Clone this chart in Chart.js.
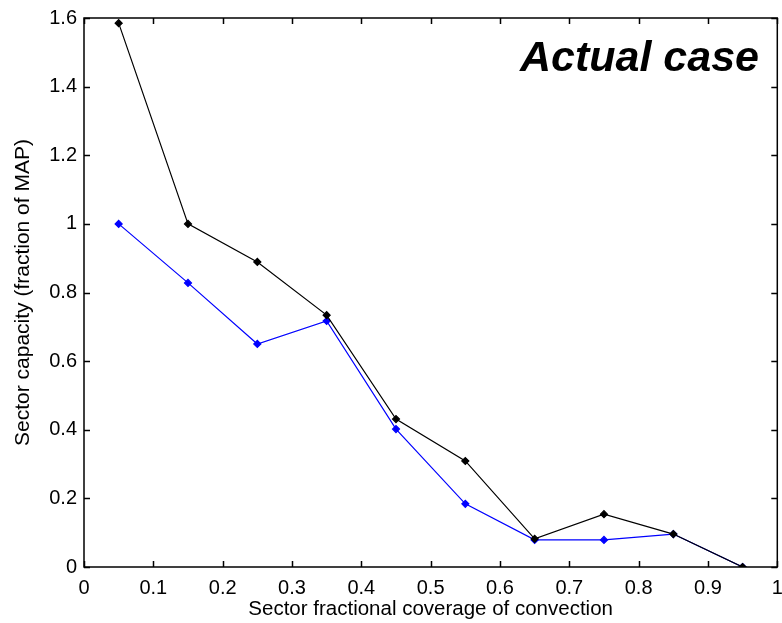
<!DOCTYPE html>
<html lang="en">

<head>
  <meta charset="UTF-8">
  <title>Sector capacity</title>
  <style>
    body { margin: 0; background: #fff; }
    #wrap { position: relative; width: 782px; height: 623px; }
    #note {
      position: absolute; left: 520px; top: 35px;
      font: italic bold 43px "Liberation Sans", Arial, sans-serif;
      line-height: 43px; color: #000; white-space: nowrap;
    }
  </style>
</head>

<body>
  <div id="wrap">
    <canvas id="myChart" width="782" height="623"></canvas>
    <div id="note">Actual case</div>
  </div>

  <script src="https://cdn.jsdelivr.net/npm/chart.js"></script>
  <script>
    // values
    const coverage = [0.05, 0.15, 0.25, 0.35, 0.45, 0.55, 0.65, 0.75, 0.85, 0.95]
    const capacityBlack = [1.585, 1.0, 0.889, 0.734, 0.431, 0.309, 0.082, 0.154, 0.096, 0]
    const capacityBlue = [1.0, 0.828, 0.65, 0.717, 0.402, 0.184, 0.079, 0.079, 0.096, 0]
    const xTicks = [0, 0.1, 0.2, 0.3, 0.4, 0.5, 0.6, 0.7, 0.8, 0.9, 1]
    const yTicks = [0, 0.2, 0.4, 0.6, 0.8, 1, 1.2, 1.4, 1.6]

    const toPoints = (ys) => coverage.map((x, i) => ({ x: x, y: ys[i] }))
    const fmt = (v) => String(+Number(v).toFixed(1))

    // matlab style box with ticks pointing inwards on all four sides
    const boxTicks = {
      id: 'boxTicks',
      afterDraw(chart) {
        const { ctx, chartArea: a, scales } = chart
        const len = 6
        ctx.save()
        ctx.strokeStyle = '#000'
        ctx.lineWidth = 1.5
        ctx.beginPath()
        xTicks.forEach(v => {
          const px = Math.round(scales.x.getPixelForValue(v)) + 0.5
          ctx.moveTo(px, a.bottom); ctx.lineTo(px, a.bottom - len)
          ctx.moveTo(px, a.top); ctx.lineTo(px, a.top + len)
        })
        yTicks.forEach(v => {
          const py = Math.round(scales.y.getPixelForValue(v)) + 0.5
          ctx.moveTo(a.left, py); ctx.lineTo(a.left + len, py)
          ctx.moveTo(a.right, py); ctx.lineTo(a.right - len, py)
        })
        ctx.stroke()
        ctx.strokeRect(a.left, a.top, a.right - a.left, a.bottom - a.top)
        ctx.restore()
      }
    }

    const fam = '"Liberation Sans", Arial, sans-serif'
    const tickFont = { family: fam, size: 20 }

    new Chart(document.getElementById('myChart'), {
      type: 'line',
      data: {
        datasets: [
          {
            data: toPoints(capacityBlack),
            borderColor: '#000',
            backgroundColor: '#000',
            borderWidth: 1.2,
            pointStyle: 'rectRot',
            pointRadius: 3.5,
            pointHoverRadius: 3.5
          },
          {
            data: toPoints(capacityBlue),
            borderColor: '#0000ff',
            backgroundColor: '#0000ff',
            borderWidth: 1.2,
            pointStyle: 'rectRot',
            pointRadius: 3.5,
            pointHoverRadius: 3.5
          }
        ]
      },
      options: {
        responsive: false,
        animation: false,
        layout: { padding: { top: 18, right: 3 } },
        plugins: { legend: { display: false }, tooltip: { enabled: false } },
        scales: {
          x: {
            type: 'linear',
            min: 0, max: 1,
            afterBuildTicks: (s) => { s.ticks = xTicks.map(v => ({ value: v })) },
            afterFit: (s) => { s.height = 56; s.paddingLeft = 0; s.paddingRight = 0 },
            grid: { display: false, drawTicks: false },
            border: { display: false },
            ticks: { color: '#000', font: tickFont, padding: 9, maxRotation: 0, callback: fmt },
            title: {
              display: true,
              text: 'Sector fractional coverage of convection',
              color: '#000',
              font: { family: fam, size: 20.5 },
              padding: { top: 0, bottom: 1 }
            }
          },
          y: {
            min: 0, max: 1.6,
            afterBuildTicks: (s) => { s.ticks = yTicks.map(v => ({ value: v })) },
            afterFit: (s) => { s.width = 84; s.paddingTop = 0; s.paddingBottom = 0 },
            grid: { display: false, drawTicks: false },
            border: { display: false },
            ticks: { color: '#000', font: tickFont, padding: 7, callback: fmt },
            title: {
              display: true,
              text: 'Sector capacity (fraction of MAP)',
              color: '#000',
              font: { family: fam, size: 21 },
              padding: { top: 11, bottom: 0 }
            }
          }
        }
      },
      plugins: [boxTicks]
    });
  </script>
</body>

</html>
